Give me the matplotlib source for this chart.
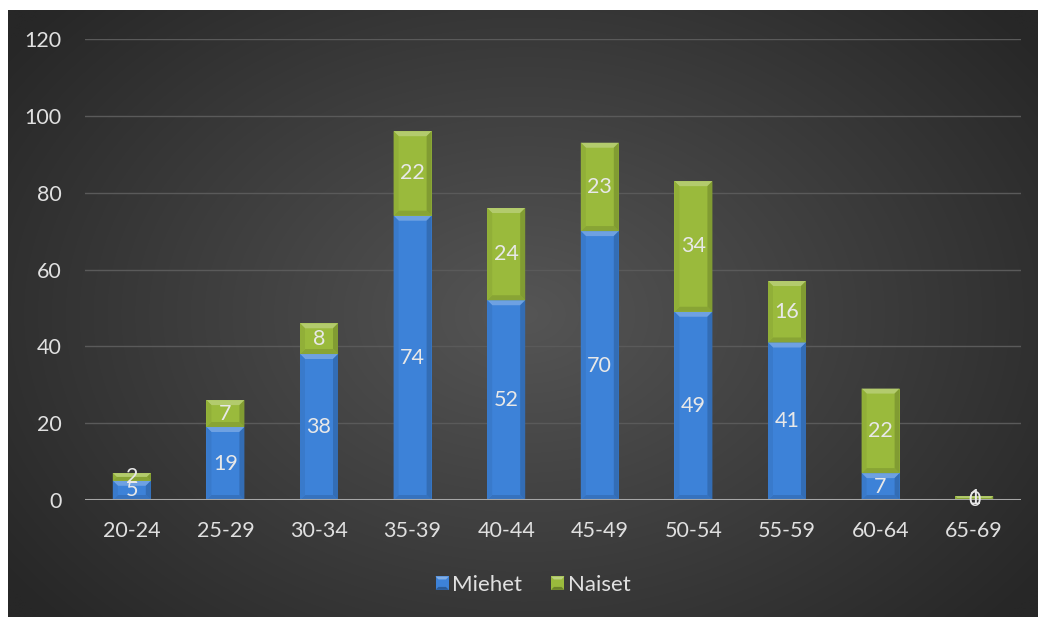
import numpy as np
import matplotlib
matplotlib.use("Agg")
import matplotlib.pyplot as plt
from matplotlib.patches import Polygon, Rectangle
from matplotlib.legend_handler import HandlerPatch

categories = ["20-24", "25-29", "30-34", "35-39", "40-44", "45-49", "50-54", "55-59", "60-64", "65-69"]
miehet = [5, 19, 38, 74, 52, 70, 49, 41, 7, 0]
naiset = [2, 7, 8, 22, 24, 23, 34, 16, 22, 1]
yticks = [0, 20, 40, 60, 80, 100, 120]

plt.rcParams['font.family'] = ['Lato', 'DejaVu Sans']

W, H = 1038, 617
fig = plt.figure(figsize=(W / 100, H / 100), dpi=100)
fig.patch.set_facecolor("white")

# background radial gradient
bg = fig.add_axes([8 / W, 0, (W - 8) / W, (H - 10) / H])
bg.set_axis_off()
ny, nx = 300, 500
yy, xx = np.mgrid[0:ny, 0:nx]
cx, cy = nx * 0.5, ny * 0.5
r = np.sqrt(((xx - cx) / (nx * 0.62)) ** 2 + ((yy - cy) / (ny * 0.75)) ** 2)
r = np.clip(r, 0, 1)
inner = np.array([0x55, 0x55, 0x55]) / 255
outer = np.array([0x27, 0x27, 0x27]) / 255
img = inner[None, None, :] * (1 - r[..., None]) + outer[None, None, :] * r[..., None]
bg.imshow(img, aspect="auto", extent=[0, 1, 0, 1], interpolation="bilinear")
bg.set_xlim(0, 1)
bg.set_ylim(0, 1)

left, right = 85 / W, 1021 / W
bottom = (H - 500) / H
top = (H - 39) / H
ax = fig.add_axes([left, bottom, right - left, top - bottom])
ax.patch.set_alpha(0)
ax.set_xlim(-0.5, len(categories) - 0.5)
ax.set_ylim(0, 120)

for s in ax.spines.values():
    s.set_visible(False)
ax.set_yticks(yticks)
ax.yaxis.grid(True, color="#5a5a5a", linewidth=1.0)
ax.set_axisbelow(True)
ax.tick_params(axis="both", length=0, colors="#e0e0e0", labelsize=15.5)
ax.tick_params(axis="y", pad=17)
ax.tick_params(axis="x", pad=15)
x = np.arange(len(categories))
ax.set_xticks(x)
ax.set_xticklabels(categories)
ax.axhline(0, color="#a6a6a6", linewidth=2.2, zorder=4)

bw = 0.406
px_x = (right - left) * W / len(categories)   # pixels per x unit
px_y = (top - bottom) * H / 120.0             # pixels per y unit
bev = 5.0

def lighten(c, f):
    c = np.array(matplotlib.colors.to_rgb(c))
    return tuple(c + (1 - c) * f)

def darken(c, f):
    c = np.array(matplotlib.colors.to_rgb(c))
    return tuple(c * (1 - f))

def bevel_bar(xc, y0, h, color):
    if h <= 0:
        return
    x0, x1 = xc - bw / 2, xc + bw / 2
    y1 = y0 + h
    ax.add_patch(Rectangle((x0, y0), bw, h, facecolor=color, edgecolor="none", zorder=3))
    hp = h * px_y
    b = min(bev, hp / 2)
    dx = b / px_x
    dy = b / px_y
    # top bevel
    ax.add_patch(Polygon([(x0, y1), (x1, y1), (x1 - dx, y1 - dy), (x0 + dx, y1 - dy)],
                         closed=True, facecolor=lighten(color, 0.25), edgecolor="none", zorder=3))
    # bottom bevel
    ax.add_patch(Polygon([(x0, y0), (x1, y0), (x1 - dx, y0 + dy), (x0 + dx, y0 + dy)],
                         closed=True, facecolor=darken(color, 0.12), edgecolor="none", zorder=3))
    # left bevel
    ax.add_patch(Polygon([(x0, y0), (x0, y1), (x0 + dx, y1 - dy), (x0 + dx, y0 + dy)],
                         closed=True, facecolor=darken(color, 0.06), edgecolor="none", zorder=3))
    # right bevel
    ax.add_patch(Polygon([(x1, y0), (x1, y1), (x1 - dx, y1 - dy), (x1 - dx, y0 + dy)],
                         closed=True, facecolor=darken(color, 0.16), edgecolor="none", zorder=3))

blue = "#3d82d8"
green = "#9aba3c"
for i in range(len(categories)):
    bevel_bar(x[i], 0, miehet[i], blue)
    bevel_bar(x[i], miehet[i], naiset[i], green)

for i in range(len(categories)):
    ax.text(x[i], miehet[i] / 2, str(miehet[i]), ha="center", va="center",
            color="#e8e8e8", fontsize=15.5, zorder=6)
    ax.text(x[i], miehet[i] + naiset[i] / 2, str(naiset[i]), ha="center", va="center",
            color="#e8e8e8", fontsize=15.5, zorder=6)


class BevelHandler(HandlerPatch):
    def create_artists(self, legend, orig_handle, xdescent, ydescent, width, height, fontsize, trans):
        s = min(width, height)
        x0 = xdescent + (width - s) / 2
        y0 = -ydescent + (height - s) / 2
        c = orig_handle.get_facecolor()
        arts = [Rectangle((x0, y0), s, s, facecolor=c, edgecolor="none", transform=trans)]
        d = s * 0.22
        arts.append(Polygon([(x0, y0 + s), (x0 + s, y0 + s), (x0 + s - d, y0 + s - d), (x0 + d, y0 + s - d)],
                            closed=True, facecolor=lighten(c, 0.35), edgecolor="none", transform=trans))
        arts.append(Polygon([(x0, y0), (x0 + s, y0), (x0 + s - d, y0 + d), (x0 + d, y0 + d)],
                            closed=True, facecolor=darken(c, 0.3), edgecolor="none", transform=trans))
        return arts

h1 = Rectangle((0, 0), 1, 1, facecolor=blue)
h2 = Rectangle((0, 0), 1, 1, facecolor=green)
leg = fig.legend([h1, h2], ["Miehet", "Naiset"], loc="center", bbox_to_anchor=(533 / W, 1 - 585 / H),
                 ncol=2, frameon=False, fontsize=16, labelcolor="#e0e0e0",
                 handler_map={Rectangle: BevelHandler()}, handlelength=0.6, handleheight=0.6,
                 handletextpad=0.15, columnspacing=1.3)

fig.savefig("out.png", dpi=100, facecolor=fig.get_facecolor())
